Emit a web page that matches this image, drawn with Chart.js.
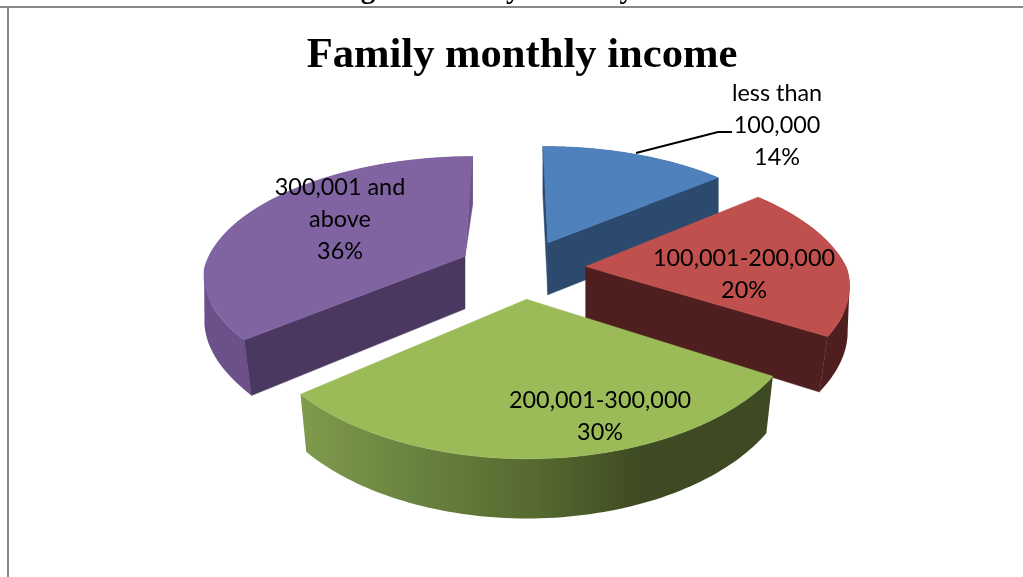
<!DOCTYPE html>
<html><head><meta charset="utf-8">
<style>html,body{margin:0;padding:0;background:#fff;overflow:hidden}#w{width:1023px;height:577px;position:relative}</style>
<script src="https://cdn.jsdelivr.net/npm/chart.js@4/dist/chart.umd.min.js"></script>
</head><body><div id="w"><canvas id="c" width="1023" height="577"></canvas></div>
<script>
const categories = ['less than 100,000','100,001-200,000','200,001-300,000','300,001 and above'];
const percentages = [14,20,30,36];
const labelLines = [['less than','100,000','14%'],['100,001-200,000','20%'],['200,001-300,000','30%'],['300,001 and','above','36%']];
const topColors = ['#4f81bd','#c0504d','#9bbb59','#8064a2'];
const sideColors = ['#2c4a6e','#4f1f1f','#7f9b4b','#6c5089'];
const faceColors = ['#2c4a6e','#4f1f1f','#3e4a22','#4a3860'];
const labelCenters = [[777,93],[744,258],[600,400],[340,187]];
const titleText = 'Family monthly income';
const captionText = 'Figure: Family Monthly Income';

const R = 261, EXPLODE = 64, K = 0.462, PY = 0.00065, DEPTH = 53;
function project(c, u, v, down){
  const fx = 1/(1-(v<0?0.0007:0.0005)*v), fy = 1/(1-PY*v);
  let x = c.x + u*fx, y = c.y + K*v*fy;
  if(down){
    const shrink = 1-0.026*Math.max(0,Math.min(1,v/130));
    x = c.x + (x-c.x)*shrink; y += DEPTH*Math.sqrt(fy);
  }
  return [x,y];
}
function poly(ctx, pts, fill){
  ctx.beginPath();
  pts.forEach((p,i)=> i?ctx.lineTo(p[0],p[1]):ctx.moveTo(p[0],p[1]));
  ctx.closePath(); ctx.fillStyle=fill; ctx.fill();
  ctx.strokeStyle=fill; ctx.lineWidth=0.5; ctx.stroke();
}
function band(ctx, top, bot, fill){
  ctx.beginPath();
  for(let k=0;k<top.length-1;k++){
    let q=[top[k],top[k+1],bot[k+1],bot[k]], area=0;
    q.forEach((p,j)=>{const r=q[(j+1)%4]; area+=p[0]*r[1]-r[0]*p[1];});
    if(area<0) q.reverse();
    q.forEach((p,j)=> j?ctx.lineTo(p[0],p[1]):ctx.moveTo(p[0],p[1]));
    ctx.closePath();
  }
  ctx.fillStyle=fill; ctx.fill();
}
const pie3d = {
  id:'pie3d',
  beforeDatasetDraw(chart){
    const ctx = chart.ctx, arcs = chart.getDatasetMeta(0).data;
    const order = [0,3,1,2];
    order.forEach(i=>{
      const a = arcs[i], c = {x:a.x,y:a.y};
      const s = a.startAngle+Math.PI/2, e = a.endAngle+Math.PI/2, m=(s+e)/2;
      const ou = EXPLODE*Math.sin(m), ov = -EXPLODE*Math.cos(m);
      const n = 80, top=[], bot=[];
      for(let k=0;k<=n;k++){
        const t = s+(e-s)*k/n, u = ou+R*Math.sin(t), v = ov-R*Math.cos(t);
        top.push(project(c,u,v,false)); bot.push(project(c,u,v,true));
      }
      const vt = project(c,ou,ov,false), vb = project(c,ou,ov,true);
      let sideFill = sideColors[i];
      if(i===2){
        const g = ctx.createLinearGradient(top[n][0],0,top[0][0],0);
        g.addColorStop(0,'#7f9b4b'); g.addColorStop(0.25,'#688240');
        g.addColorStop(0.5,'#56692f'); g.addColorStop(0.72,'#3e4a22'); g.addColorStop(1,'#3e4a22');
        sideFill = g;
      }
      band(ctx, top, bot, sideFill);
      if(i===0){ poly(ctx,[top[0],vt,vb,bot[0]],faceColors[0]); poly(ctx,[top[n],vt,vb,bot[n]],faceColors[0]); }
      if(i===1){ poly(ctx,[top[n],vt,vb,bot[n]],faceColors[1]); }
      if(i===3){ poly(ctx,[top[n],vt,bot[n]],sideColors[3]); poly(ctx,[top[0],vt,vb,bot[0]],faceColors[3]); }
      poly(ctx, [vt].concat(top), topColors[i]);
    });
    return false;
  },
  afterDraw(chart){
    const ctx = chart.ctx;
    ctx.save();
    ctx.fillStyle='#888'; ctx.fillRect(0,6,1023,2); ctx.fillRect(7,6,2,571);
    ctx.fillStyle='#000'; ctx.font='bold 29px "Liberation Serif"'; ctx.textAlign='left'; ctx.textBaseline='alphabetic';
    ctx.fillText(captionText,335,-2);
    ctx.textAlign='center';
    ctx.strokeStyle='#000'; ctx.lineWidth=2; ctx.beginPath(); ctx.moveTo(636,153); ctx.lineTo(718,132); ctx.lineTo(732,132); ctx.stroke();
    ctx.font='23.4px Lato'; ctx.textBaseline='middle';
    labelLines.forEach((ls,i)=>ls.forEach((t,j)=>ctx.fillText(t,labelCenters[i][0],labelCenters[i][1]+j*32)));
    ctx.restore();
  }
};
new Chart(document.getElementById('c'),{
  type:'pie',
  data:{labels:categories,datasets:[{data:percentages,backgroundColor:topColors,offset:0,borderWidth:0}]},
  options:{
    responsive:false,animation:false,rotation:-0.3,
    layout:{padding:{left:21,right:0,top:0,bottom:121}},
    plugins:{
      legend:{display:false},tooltip:{enabled:false},
      title:{display:true,text:titleText,color:'#000',font:{family:'"Liberation Serif"',size:42.6,weight:'bold',lineHeight:1.2},padding:{top:30,bottom:0}}
    }
  },
  plugins:[pie3d]
});
</script></body></html>
